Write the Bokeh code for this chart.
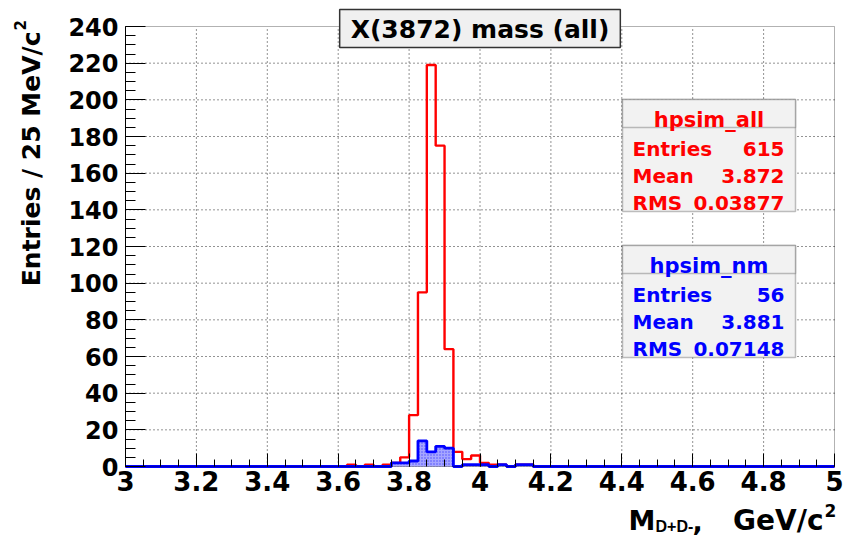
import numpy as np
from bokeh.plotting import figure
from bokeh.models import Range1d, FixedTicker, Label, BoxAnnotation
from bokeh.embed import file_html
from bokeh.resources import INLINE

# ---------------- data ----------------
bin_width = 0.025
x_min, x_max = 3.0, 5.0
y_min, y_max = 0, 240
first_bin = 3.625  # left edge of the first listed bin
all_counts = [1, 0, 1, 0, 1, 2, 5, 28, 95, 219, 175, 64, 8, 4, 6, 2, 1, 1, 0, 1, 1]
nm_counts = [0, 0, 0, 0, 0, 2, 2, 3, 14, 8, 11, 10, 0, 1, 1, 1, 0, 1, 0, 1, 1]

x_ticks = [3.0, 3.2, 3.4, 3.6, 3.8, 4.0, 4.2, 4.4, 4.6, 4.8, 5.0]
x_tick_labels = ["3", "3.2", "3.4", "3.6", "3.8", "4", "4.2", "4.4", "4.6", "4.8", "5"]
x_minor = [round(3.0 + 0.05 * i, 3) for i in range(41)]
y_ticks = [0, 20, 40, 60, 80, 100, 120, 140, 160, 180, 200, 220, 240]
y_minor = list(range(0, 241, 5))

title_text = "X(3872) mass (all)"
stats_all = {"name": "hpsim_all", "Entries": "615", "Mean": "3.872", "RMS": "0.03877"}
stats_nm = {"name": "hpsim_nm", "Entries": "56", "Mean": "3.881", "RMS": "0.07148"}

FONT = "DejaVu Sans"
FONT2 = "Liberation Sans"
RED = "#ff0000"
BLUE = "#0000ff"

# ---------------- layout ----------------
W, H = 844, 536
FL, FR, FT, FB = 125, 834, 26, 466  # pixel box of the axes area
sx = (FR - FL) / (x_max - x_min)
sy = (FB - FT) / (y_max - y_min)
view_x0 = x_min - FL / sx
view_x1 = view_x0 + W / sx
view_y0 = y_min - (H - FB) / sy
view_y1 = view_y0 + H / sy


def X(px):
    return view_x0 + px / sx


def Y(py):
    return view_y0 + (H - py) / sy


def step_arrays(counts):
    nb = int(round((x_max - x_min) / bin_width))
    edges = x_min + bin_width * np.arange(nb + 1)
    full = np.zeros(nb)
    i0 = int(round((first_bin - x_min) / bin_width))
    full[i0:i0 + len(counts)] = counts
    xs = np.repeat(edges, 2)
    ys = np.concatenate([[0.0], np.repeat(full, 2), [0.0]])
    return xs, ys


def txt(px, py, text, size, color="black", align="left", font=FONT, angle=0.0,
        baseline="alphabetic"):
    p.add_layout(Label(x=X(px), y=Y(py), text=text, text_align=align,
                       text_baseline=baseline, text_font=font, text_font_style="bold",
                       text_font_size=f"{size}px", text_color=color, angle=angle))


p = figure(width=W, height=H, frame_width=W, frame_height=H,
           min_border=0, output_backend="svg", toolbar_location=None,
           x_range=Range1d(view_x0, view_x1), y_range=Range1d(view_y0, view_y1))
p.background_fill_color = "white"
p.border_fill_color = "white"
p.outline_line_color = None
p.xgrid.visible = False
p.ygrid.visible = False

# axes fixed at the data origin
p.xaxis.fixed_location = y_min
p.yaxis.fixed_location = x_min
p.xaxis.bounds = (x_min, x_max)
p.yaxis.bounds = (y_min, y_max)
p.xaxis.ticker = FixedTicker(ticks=x_ticks, minor_ticks=x_minor)
p.xaxis.major_label_overrides = {t: l for t, l in zip(x_ticks, x_tick_labels)}
p.yaxis.ticker = FixedTicker(ticks=y_ticks, minor_ticks=y_minor)
for ax in (p.xaxis, p.yaxis):
    ax.major_label_text_font = FONT
    ax.major_label_text_font_style = "bold"
    ax.major_label_text_color = "black"
    ax.axis_line_color = "black"
    ax.major_tick_line_color = "black"
    ax.minor_tick_line_color = "black"
    ax.major_tick_out = 0
    ax.minor_tick_out = 0
p.xaxis.major_label_text_font_size = "26px"
p.xaxis.major_label_standoff = 4
p.xaxis.major_tick_in = 13
p.xaxis.minor_tick_in = 7
p.xaxis.axis_line_color = None
p.yaxis.major_label_text_font_size = "24px"
p.yaxis.major_label_standoff = 7
p.yaxis.major_tick_in = 20
p.yaxis.minor_tick_in = 10

# dotted grid from the tick lists
inner_x = x_ticks[1:-1]
inner_y = y_ticks[1:-1]
p.segment(x0=inner_x, x1=inner_x, y0=[y_min] * len(inner_x), y1=[y_max] * len(inner_x),
          line_color="black", line_dash="1 3", line_width=1, line_alpha=0.85)
p.segment(x0=[x_min] * len(inner_y), x1=[x_max] * len(inner_y), y0=inner_y, y1=inner_y,
          line_color="black", line_dash="1 3", line_width=1, line_alpha=0.85)

# histograms
xa, ya = step_arrays(all_counts)
xn, yn = step_arrays(nm_counts)
p.line(xa, ya, line_color=RED, line_width=2.4)
p.varea(x=xn, y1=np.zeros_like(yn), y2=yn, fill_color="#a6a6ff",
        hatch_pattern="dot", hatch_color="#4a4aff", hatch_scale=3, hatch_weight=1)
p.line(xn, yn, line_color=BLUE, line_width=2.8)

# frame around the axes area
p.add_layout(BoxAnnotation(left=x_min, right=x_max, bottom=y_min, top=y_max,
                           fill_color=None, line_color="black", line_width=1))

# title box
p.add_layout(Label(x=X(479.5), y=Y(28), text=title_text, text_align="center",
                   text_baseline="middle", text_font=FONT, text_font_style="bold",
                   text_font_size="25px", text_color="black",
                   background_fill_color="#f0f0f0", border_line_color="#333333",
                   border_line_width=1.5,
                   padding=dict(left=11, right=11, top=5, bottom=4)))


def stats_box(st, top, color):
    bottom = top + 112
    hdr = top + 28
    p.add_layout(BoxAnnotation(left=X(622), right=X(795), top=Y(top), bottom=Y(bottom),
                               fill_color="#f2f2f2", fill_alpha=1,
                               line_color="#333333", line_width=1.5))
    p.add_layout(BoxAnnotation(left=X(622), right=X(795), top=Y(top), bottom=Y(hdr),
                               fill_color="#f2f2f2", fill_alpha=1,
                               line_color="#333333", line_width=1.5))
    txt(708.5, top + 20, st["name"], 21, color, align="center")
    for i, key in enumerate(["Entries", "Mean", "RMS"]):
        base = top + 49 + 27 * i
        txt(632, base, key, 20, color)
        txt(784, base, st[key], 20, color, align="right")


stats_box(stats_all, 99, RED)
stats_box(stats_nm, 245, BLUE)

# y axis title (rotated)
txt(31, 31, "Entries / 25 MeV/c", 25, align="right", angle=np.pi / 2)
txt(19, 30, "2", 15, angle=np.pi / 2)

# x axis title
txt(628, 520, "M", 27)
txt(655, 526, "D+D-", 16, font=FONT2)
txt(692, 520, ",", 27)
txt(823, 520, "GeV/c", 28, align="right")
txt(824, 510, "2", 17)

open("out.html", "w").write(file_html(p, INLINE))
